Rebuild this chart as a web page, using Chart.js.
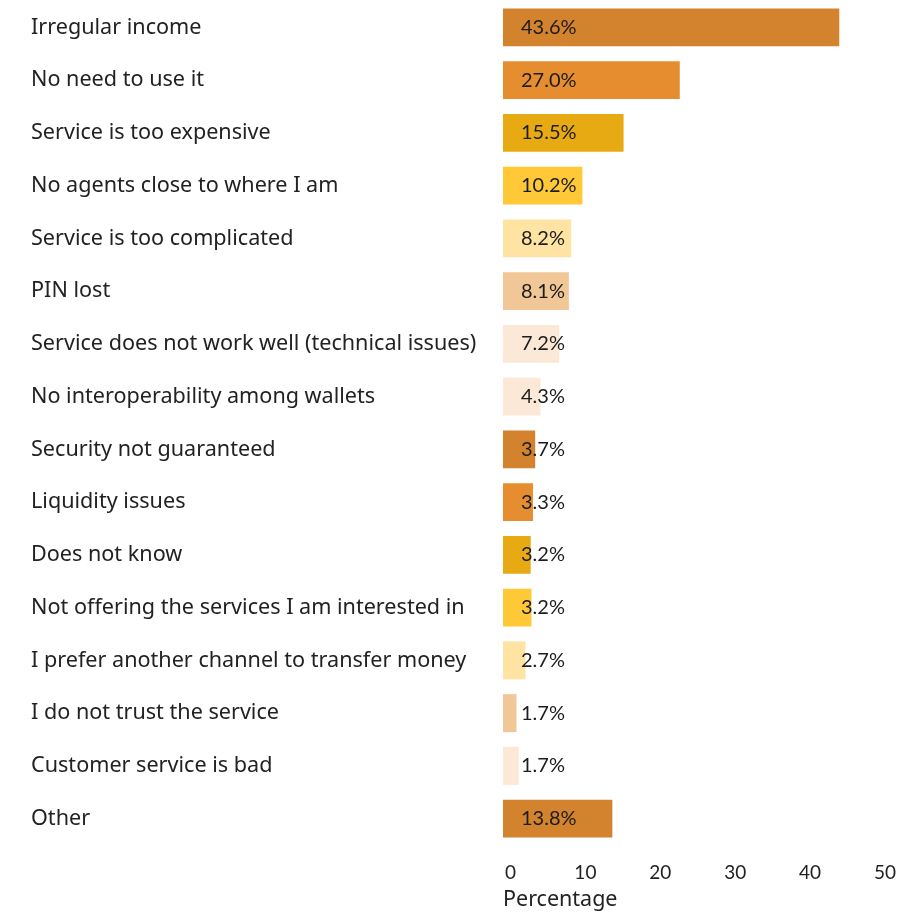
<!DOCTYPE html>
<html>
<head>
<meta charset="utf-8">
<script src="https://cdn.jsdelivr.net/npm/chart.js@4/dist/chart.umd.min.js"></script>
<style>
  html, body { margin: 0; padding: 0; background: #fff; }
  #wrap { width: 912px; height: 913px; }
</style>
</head>
<body>
<div id="wrap"><canvas id="chart"></canvas></div>
<script>
const reasons = [
  "Irregular income",
  "No need to use it",
  "Service is too expensive",
  "No agents close to where I am",
  "Service is too complicated",
  "PIN lost",
  "Service does not work well (technical issues)",
  "No interoperability among wallets",
  "Security not guaranteed",
  "Liquidity issues",
  "Does not know",
  "Not offering the services I am interested in",
  "I prefer another channel to transfer money",
  "I do not trust the service",
  "Customer service is bad",
  "Other",
];
// printed percentages
const percentLabels = ["43.6%", "27.0%", "15.5%", "10.2%", "8.2%", "8.1%", "7.2%", "4.3%",
  "3.7%", "3.3%", "3.2%", "3.2%", "2.7%", "1.7%", "1.7%", "13.8%"];
// bar lengths as drawn in the picture
const barLengths = [43.9, 22.6, 15.1, 9.6, 8.1, 7.8, 6.5, 4.0, 3.3, 3.0, 2.7, 2.8, 2.0, 0.8, 1.1, 13.6];
const barColors = ["#D3822D", "#E58D2F", "#E8AA13", "#FEC836", "#FEE3A3", "#F2C797", "#FBE8D7", "#FBE8D7",
  "#D3822D", "#E58D2F", "#E8AA13", "#FEC836", "#FEE3A3", "#F2C797", "#FBE8D7", "#D3822D"];
const xTicks = [0, 10, 20, 30, 40, 50];

const valueLabels = {
  id: "valueLabels",
  afterDatasetsDraw(chart) {
    const ctx = chart.ctx;
    const meta = chart.getDatasetMeta(0);
    ctx.save();
    ctx.font = "20px Lato";
    ctx.fillStyle = "#1c1c1c";
    ctx.textAlign = "left";
    ctx.textBaseline = "middle";
    meta.data.forEach((bar, i) => {
      ctx.fillText(percentLabels[i], chart.chartArea.left + 18, bar.y);
    });
    ctx.restore();
  },
};

new Chart(document.getElementById("chart"), {
  type: "bar",
  data: {
    labels: reasons,
    datasets: [{
      data: barLengths,
      base: -1,
      backgroundColor: barColors,
      borderWidth: 0,
      categoryPercentage: 0.72,
      barPercentage: 1,
    }],
  },
  options: {
    indexAxis: "y",
    responsive: true,
    maintainAspectRatio: false,
    animation: false,
    layout: { padding: { left: 31, right: 27, top: 1, bottom: 0 } },
    plugins: { legend: { display: false }, tooltip: { enabled: false } },
    scales: {
      y: {
        grid: { display: false, drawTicks: false },
        border: { display: false },
        ticks: {
          crossAlign: "far",
          color: "#222",
          font: { family: "Noto Sans", size: 21.6 },
        },
        afterFit(scale) {
          scale.width = 472;
          scale.paddingTop = 0;
          scale.paddingBottom = 0;
        },
      },
      x: {
        min: -1,
        max: 50,
        grid: { display: false, drawTicks: false },
        border: { display: false },
        afterBuildTicks(scale) { scale.ticks = xTicks.map((v) => ({ value: v })); },
        ticks: {
          color: "#222",
          padding: 16,
          font: { family: "Lato", size: 19 },
        },
        title: {
          display: true,
          text: "Percentage",
          align: "start",
          color: "#222",
          padding: 0,
          font: { family: "Noto Sans", size: 21.5 },
        },
        afterFit(scale) { scale.height = 68; },
      },
    },
  },
  plugins: [valueLabels],
});
</script>
</body>
</html>
